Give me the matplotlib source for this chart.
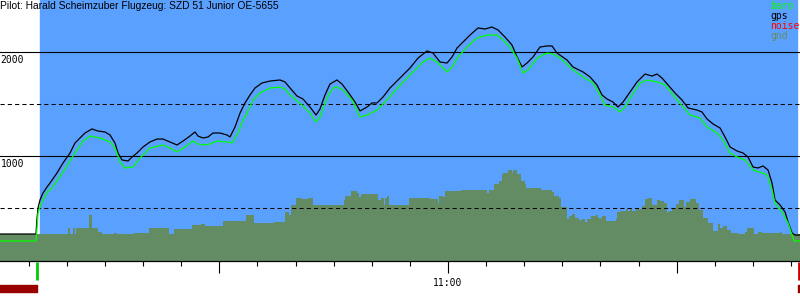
import matplotlib
matplotlib.use('Agg')
import matplotlib.pyplot as plt
import matplotlib.ticker as mticker

# times are minutes after 10:00, altitudes in metres
gps_t = [1.2, 5.93, 6.05, 6.2, 6.46, 6.85, 7.38, 7.77, 8.69, 9.48, 10.4, 11.05, 11.71, 12.36,
         13.28, 14.07, 14.99, 15.65, 16.3, 16.7, 17.22, 18.01, 18.53, 19.19, 19.98, 20.89,
         21.81, 22.6, 23.52, 24.44, 25.23, 26.14, 26.8, 27.19, 27.85, 28.51, 29.16, 30.08,
         31.0, 31.39, 32.05, 32.71, 33.36, 34.02, 34.67, 35.59, 36.64, 37.95, 38.61, 39.27,
         40.18, 40.97, 41.89, 42.68, 43.2, 43.86, 44.51, 45.43, 46.09, 46.88, 47.8, 48.45,
         49.37, 50.03, 50.68, 51.47, 52.39, 53.7, 55.01, 56.07, 57.24, 58.03, 58.95, 59.87,
         60.53, 61.18, 61.97, 62.89, 63.94, 64.86, 65.77, 66.56, 67.48, 68.4, 69.06, 69.71,
         70.37, 71.16, 72.07, 72.99, 73.65, 74.3, 75.62, 76.4, 77.72, 78.64, 79.55, 80.21,
         80.87, 81.65, 82.31, 82.97, 83.88, 84.8, 85.85, 86.77, 87.43, 88.08, 88.87, 89.79,
         90.71, 91.5, 92.68, 93.33, 93.99, 94.78, 95.7, 96.35, 97.01, 97.93, 98.71, 99.37,
         100.03, 100.68, 101.34, 102.0, 102.52, 102.91, 103.57, 104.23, 104.62, 105.15,
         105.54, 106.19]
gps_alt = [250, 250, 385, 500, 577, 644, 702, 740, 837, 933, 1029, 1125, 1173, 1221,
           1260, 1240, 1231, 1202, 1125, 1029, 962, 952, 990, 1029, 1087, 1135,
           1163, 1163, 1135, 1106, 1144, 1192, 1231, 1192, 1173, 1183, 1221, 1221,
           1202, 1183, 1279, 1413, 1510, 1587, 1654, 1702, 1721, 1731, 1712, 1654,
           1577, 1548, 1471, 1394, 1452, 1587, 1692, 1731, 1692, 1615, 1519, 1433,
           1471, 1510, 1510, 1567, 1654, 1750, 1846, 1942, 2010, 1990, 1904, 1894,
           1952, 2038, 2096, 2163, 2231, 2221, 2240, 2212, 2144, 2067, 1952, 1856,
           1894, 1952, 2048, 2058, 2058, 1990, 1923, 1856, 1808, 1760, 1683, 1587,
           1548, 1519, 1471, 1519, 1615, 1712, 1788, 1769, 1788, 1750, 1683, 1606,
           1538, 1462, 1442, 1423, 1356, 1308, 1269, 1183, 1087, 1048, 1029, 990,
           894, 885, 904, 865, 740, 577, 529, 462, 365, 260,
           240, 240]

baro_t = [1.2, 5.93, 6.07, 6.2, 6.46, 6.85, 7.51, 7.77, 8.69, 9.48, 10.4, 11.05, 12.1, 13.02,
          14.33, 15.65, 16.3, 16.96, 17.61, 18.66, 19.58, 20.89, 22.6, 23.52, 24.44, 25.49,
          26.54, 27.19, 27.85, 28.77, 29.69, 31.0, 31.65, 32.44, 33.1, 33.62, 34.41, 35.33,
          36.64, 37.95, 38.61, 39.27, 40.97, 41.89, 42.68, 43.2, 44.12, 44.91, 45.43, 46.22,
          47.4, 48.45, 49.37, 50.68, 51.73, 52.78, 54.1, 55.41, 56.72, 57.64, 58.56, 59.34,
          59.87, 60.53, 61.31, 62.5, 63.81, 65.12, 66.43, 67.22, 68.14, 69.06, 69.84, 70.5,
          71.68, 72.99, 73.78, 74.7, 76.4, 77.72, 79.03, 79.95, 80.6, 81.65, 82.57, 83.23,
          84.15, 85.2, 86.11, 87.43, 88.48, 89.53, 90.84, 91.76, 93.07, 93.99, 95.3, 96.09,
          97.01, 97.93, 98.98, 100.03, 101.21, 101.87, 102.52, 102.91, 103.83, 104.62,
          105.15, 105.41, 106.19]
baro_alt = [183, 183, 308, 452, 510, 577, 663, 673, 760, 846, 952, 1029, 1144, 1192,
            1173, 1135, 1077, 942, 885, 894, 981, 1077, 1106, 1077, 1038, 1087,
            1144, 1115, 1106, 1115, 1144, 1135, 1125, 1221, 1346, 1413, 1538, 1606,
            1654, 1663, 1644, 1587, 1481, 1413, 1327, 1375, 1558, 1654, 1663, 1635,
            1538, 1375, 1394, 1442, 1519, 1606, 1712, 1808, 1904, 1942, 1904, 1846,
            1808, 1856, 1952, 2048, 2135, 2163, 2163, 2115, 2048, 1942, 1798, 1827,
            1942, 1990, 1981, 1942, 1827, 1760, 1702, 1587, 1490, 1471, 1423, 1471,
            1587, 1702, 1731, 1712, 1683, 1587, 1471, 1394, 1365, 1279, 1221, 1154,
            1029, 990, 962, 865, 837, 817, 673, 548, 462, 356,
            240, 183, 183]

# ground elevation below the track (steps)
gnd_t = [1.2, 10.1, 10.4, 10.8, 11.05, 11.2, 12.9, 13.3, 14.1, 14.6, 16.2, 16.6, 18.8, 20.8,
         23.4, 24.0, 26.4, 27.6, 28.1, 30.5, 33.5, 34.5, 37.2, 38.6, 39.1, 39.4, 40.05, 40.8,
         41.6, 42.3, 46.35, 46.5, 47.3, 48.1, 48.3, 48.6, 50.8, 51.2, 51.6, 51.7, 52.0, 52.3,
         54.9, 57.6, 58.7, 58.8, 59.3, 59.6, 61.7, 65.1, 65.4, 66.0, 66.7, 67.1, 67.2, 67.9,
         68.4, 68.5, 69.1, 69.6, 70.1, 70.2, 72.2, 73.65, 73.9, 74.6, 74.8, 75.6, 75.9, 76.3,
         76.7, 77.2, 77.6, 78.0, 78.2, 78.8, 79.4, 79.7, 80.2, 80.7, 82.05, 82.2, 82.6, 83.4,
         83.6, 83.9, 84.15, 84.7, 85.5, 85.85, 86.25, 86.8, 87.4, 87.8, 88.3, 88.7, 89.0,
         89.4, 89.9, 90.3, 91.0, 91.2, 91.8, 92.55, 92.9, 93.5, 94.1, 94.8, 95.4, 95.7, 96.1,
         96.6, 97.1, 98.1, 99.0, 99.2, 100.2, 100.7, 101.2, 103.6, 103.8, 106.19]
gnd_alt = [250, 308, 250, 308, 250, 308, 433, 308, 269, 250, 260, 250, 260, 308,
           250, 298, 337, 346, 327, 375, 433, 356, 365, 462, 433, 529, 596, 587,
           596, 529, 577, 615, 663, 644, 606, 635, 577, 596, 529, 596, 615, 529,
           596, 587, 548, 615, 606, 663, 673, 644, 673, 731, 760, 827, 837, 865,
           837, 865, 827, 760, 731, 692, 673, 654, 615, 596, 510, 394, 423, 442,
           404, 385, 394, 365, 394, 423, 433, 404, 423, 375, 394, 462, 471, 490,
           471, 490, 471, 490, 519, 587, 596, 529, 577, 567, 548, 462, 471,
           500, 538, 577, 510, 558, 587, 548, 481, 404, 356, 279, 346, 308, 327,
           288, 260, 250, 269, 308, 250, 269, 260, 269, 250, 250]

takeoff = 6.0
landing = 106.0
sky = (6.45, 105.8)
noise_spans = [(1.21, 4.85), (105.9, 0.3)]

series_names = ['baro', 'gps', 'noise', 'gnd']
series_colors = ['#00ff00', 'black', '#ff0000', '#648c64']

title = 'Pilot: Harald Scheimzuber Flugzeug: SZD 51 Junior OE-5655'

t_min, t_max = 1.21, 106.19

fig = plt.figure(figsize=(8, 3), dpi=100)

# strip under the time axis with takeoff / landing / noise marks
bx = fig.add_axes([0, 0, 1, 39 / 300])
bx.set_xlim(t_min, t_max)
bx.set_ylim(0, 39)
bx.axis('off')
bx.vlines(takeoff, 20, 38, color='#00cc00', lw=2.0)
bx.vlines(landing, 20, 38, color='#cc0000', lw=2.0)
bx.broken_barh(noise_spans, (8, 7), color='#990000')

ax = fig.add_axes([0, 39 / 300, 1, 261 / 300])
ax.set_xlim(t_min, t_max)
ax.set_ylim(-9.6, 2500)
ax.axvspan(sky[0], sky[1], color='#5aa0ff', zorder=0)
ax.fill_between(gnd_t, -20, gnd_alt, step='post', color=series_colors[3], lw=0, zorder=1)

for lvl in [1000, 2000]:
    ax.axhline(lvl, color='black', lw=0.8, zorder=2)
    ax.annotate(str(lvl), xy=(0, lvl), xycoords=('axes fraction', 'data'),
                xytext=(0.5, -2.5), textcoords='offset points', va='top', ha='left',
                family='DejaVu Sans Mono', fontsize=7)
for lvl in [500, 1500]:
    ax.axhline(lvl, color='black', lw=0.75, ls=(0, (4, 3)), zorder=2)

ax.plot(gps_t, gps_alt, color='black', lw=0.9, zorder=3)
ax.plot(baro_t, baro_alt, color=series_colors[0], lw=0.9, zorder=4)

for s in ['left', 'top', 'right']:
    ax.spines[s].set_visible(False)
ax.spines['bottom'].set_linewidth(0.9)
ax.set_yticks([])
ax.xaxis.set_major_locator(mticker.FixedLocator([30, 60, 90]))
ax.xaxis.set_major_formatter(mticker.FixedFormatter(['', '11:00', '']))
ax.xaxis.set_minor_locator(mticker.MultipleLocator(5))
ax.tick_params(axis='x', which='major', length=8.6, width=0.8, direction='out', pad=4,
               labelsize=7)
ax.tick_params(axis='x', which='minor', length=3.6, width=0.8, direction='out')
for lab in ax.get_xticklabels():
    lab.set_family('DejaVu Sans Mono')

fig.text(0, 1 - 1 / 300, title, ha='left', va='top', fontsize=7.4, family='Liberation Sans')
for i, (name, col) in enumerate(zip(series_names, series_colors)):
    fig.text(770 / 800, 1 - (1 + 10 * i) / 300, name, color=col, ha='left', va='top',
             fontsize=7, family='DejaVu Sans Mono')

fig.savefig('out.png', dpi=100)
